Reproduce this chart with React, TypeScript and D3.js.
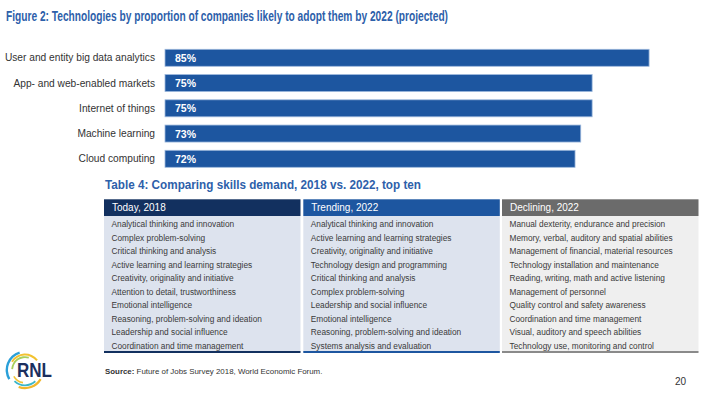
import React from "react";
import * as d3 from "d3";

const techCategories = [
  "User and entity big data analytics",
  "App- and web-enabled markets",
  "Internet of things",
  "Machine learning",
  "Cloud computing",
];
const techValues = [85, 75, 75, 73, 72];

const tableHeaders = ["Today, 2018", "Trending, 2022", "Declining, 2022"];
const today2018 = [
  "Analytical thinking and innovation",
  "Complex problem-solving",
  "Critical thinking and analysis",
  "Active learning and learning strategies",
  "Creativity, originality and initiative",
  "Attention to detail, trustworthiness",
  "Emotional intelligence",
  "Reasoning, problem-solving and ideation",
  "Leadership and social influence",
  "Coordination and time management",
];
const trending2022 = [
  "Analytical thinking and innovation",
  "Active learning and learning strategies",
  "Creativity, originality and initiative",
  "Technology design and programming",
  "Critical thinking and analysis",
  "Complex problem-solving",
  "Leadership and social influence",
  "Emotional intelligence",
  "Reasoning, problem-solving and ideation",
  "Systems analysis and evaluation",
];
const declining2022 = [
  "Manual dexterity, endurance and precision",
  "Memory, verbal, auditory and spatial abilities",
  "Management of financial, material resources",
  "Technology installation and maintenance",
  "Reading, writing, math and active listening",
  "Management of personnel",
  "Quality control and safety awareness",
  "Coordination and time management",
  "Visual, auditory and speech abilities",
  "Technology use, monitoring and control",
];

const FONT = "'Liberation Sans', Arial, sans-serif";

export default function App() {
  const W = 709, H = 396;
  const x = d3.scaleLinear().domain([0, 100]).range([165, 734.5]);
  const y = d3
    .scaleBand<string>()
    .domain(techCategories)
    .range([49.3, 167.3])
    .paddingInner(0.327)
    .paddingOuter(0);

  const columns = [today2018, trending2022, declining2022];
  const colX = d3.scaleOrdinal<number, number>().domain([0, 1, 2]).range([104, 303.3, 502]);
  const colW = 196.5;
  const headerFill = ["#12305f", "#1d56a0", "#6b6b6b"];
  const bodyFill = ["#dde3ee", "#dde3ee", "#efefef"];
  const lineFill = ["#12305f", "#1d56a0", "#8a8a8a"];
  const headTop = 199.3, headH = 16.7, bodyBottom = 352;
  const rowY = d3.scaleLinear().domain([0, 9]).range([224.3, 345.8]);

  const arc = d3.arc<any>();
  const cx = 25, cy = 370;
  const logoArcs = [
    { r0: 17.0, r1: 19.4, a0: -2.1, a1: -0.3, c: "#2a9fd8" },
    { r0: 14.4, r1: 16.4, a0: -1.0, a1: 0.9, c: "#f2c230" },
    { r0: 12.0, r1: 13.8, a0: -1.5, a1: 0.3, c: "#a8cf5a" },
    { r0: 17.0, r1: 19.2, a0: 2.1, a1: 3.5, c: "#f2b62a" },
    { r0: 14.4, r1: 16.2, a0: 2.4, a1: 3.9, c: "#3bb6c9" },
    { r0: 12.0, r1: 13.6, a0: 3.3, a1: 4.2, c: "#f2c230" },
  ];

  return (
    <svg width={W} height={H} style={{ position: "absolute", left: 0, top: 0, background: "#fff" }}>
      <rect width={W} height={H} fill="#fff" />
      <text
        x={6}
        y={21}
        fontFamily={FONT}
        fontSize={14}
        fontWeight="bold"
        fill="#2d60aa"
        textLength={442}
        lengthAdjust="spacingAndGlyphs"
      >
        Figure 2: Technologies by proportion of companies likely to adopt them by 2022 (projected)
      </text>

      {techCategories.map((c, i) => (
        <g key={c}>
          <text
            x={155}
            y={(y(c) as number) + y.bandwidth() / 2}
            dominantBaseline="central"
            textAnchor="end"
            fontFamily={FONT}
            fontSize={10.2}
            fill="#333"
          >
            {c}
          </text>
          <rect
            x={x(0)}
            y={y(c)}
            width={x(techValues[i]) - x(0)}
            height={y.bandwidth()}
            fill="#1d56a0"
            stroke="#9db8dc"
            strokeWidth={0.8}
          />
          <text
            x={x(0) + 10}
            y={(y(c) as number) + y.bandwidth() / 2}
            dominantBaseline="central"
            fontFamily={FONT}
            fontSize={10.5}
            fontWeight="bold"
            fill="#fff"
          >
            {techValues[i]}%
          </text>
        </g>
      ))}

      <text
        x={105}
        y={188.5}
        fontFamily={FONT}
        fontSize={13}
        fontWeight="bold"
        fill="#2d60aa"
        textLength={316}
        lengthAdjust="spacingAndGlyphs"
      >
        Table 4: Comparing skills demand, 2018 vs. 2022, top ten
      </text>

      {columns.map((col, ci) => {
        const cxp = colX(ci);
        return (
          <g key={ci}>
            <rect x={cxp} y={headTop} width={colW} height={headH} fill={headerFill[ci]} />
            <rect x={cxp} y={headTop + headH} width={colW} height={bodyBottom - headTop - headH} fill={bodyFill[ci]} />
            <rect x={cxp} y={bodyBottom - 1} width={colW} height={2} fill={lineFill[ci]} />
            <text
              x={cxp + 8}
              y={headTop + headH / 2}
              dominantBaseline="central"
              fontFamily={FONT}
              fontSize={10}
              fill="#fff"
            >
              {tableHeaders[ci]}
            </text>
            {col.map((t, ri) => (
              <text
                key={ri}
                x={cxp + 7.5}
                y={rowY(ri)}
                dominantBaseline="central"
                fontFamily={FONT}
                fontSize={8.3}
                fill="#3a3a3a"
              >
                {t}
              </text>
            ))}
          </g>
        );
      })}

      <text x={105} y={371} dominantBaseline="central" fontFamily={FONT} fontSize={7.9} fill="#333">
        <tspan fontWeight="bold">Source:</tspan> Future of Jobs Survey 2018, World Economic Forum.
      </text>

      <text x={675} y={385} fontFamily={FONT} fontSize={10} fill="#333">
        20
      </text>

      <g transform={`translate(${cx},${cy})`}>
        {logoArcs.map((a, i) => (
          <path
            key={i}
            d={arc({ innerRadius: a.r0, outerRadius: a.r1, startAngle: a.a0, endAngle: a.a1 }) as string}
            fill={a.c}
          />
        ))}
      </g>
      <text
        x={17}
        y={377.3}
        fontFamily={FONT}
        fontSize={21}
        fontWeight="bold"
        fill="#1b2f5e"
        textLength={35}
        lengthAdjust="spacingAndGlyphs"
      >
        RNL
      </text>
    </svg>
  );
}
